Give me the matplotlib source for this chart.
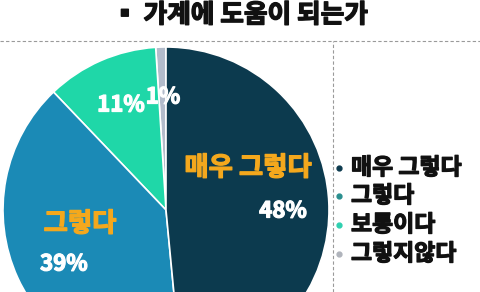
import matplotlib
matplotlib.use("Agg")
import matplotlib.pyplot as plt
from matplotlib.lines import Line2D
import matplotlib.patheffects as pe

plt.rcParams['font.family'] = ['Noto Sans CJK KR', 'DejaVu Sans']

title = "▪ 가계에 도움이 되는가"
categories = ["그렇지않다", "보통이다", "그렇다", "매우 그렇다"]
values = [1, 11, 39, 48]
colors = ["#b3bccb", "#1fd7a8", "#1b8ab6", "#0c3a4e"]
pct_labels = ["1%", "11%", "39%", "48%"]
legend_order = ["매우 그렇다", "그렇다", "보통이다", "그렇지않다"]

W, H = 481, 292
fig = plt.figure(figsize=(W / 100, H / 100), dpi=100)
fig.patch.set_facecolor("white")

# pie axes: center (166, 210) px, radius 163 px
cx, cy, r = 166, 210, 163
ax = fig.add_axes([(cx - r) / W, (H - cy - r) / H, 2 * r / W, 2 * r / H])
ax.pie(values, colors=colors, startangle=90, counterclock=True,
       wedgeprops=dict(edgecolor="white", linewidth=1.2))
ax.set_xlim(-1, 1)
ax.set_ylim(-1, 1)
ax.set_aspect("auto")
ax.axis("off")

def d(px, py):
    return ((px - cx) / r, (cy - py) / r)

def heavy(c, w=0.9):
    return [pe.withStroke(linewidth=w, foreground=c)]

orange = "#f4a81d"
ax.text(*d(248, 168), "매우 그렇다", color=orange, fontsize=19, fontweight="bold",
        ha="center", va="center", clip_on=False, path_effects=heavy(orange))
ax.text(*d(283, 211), pct_labels[3], color="white", fontsize=16, fontweight="bold",
        ha="center", va="center", clip_on=False, path_effects=heavy("white"))
ax.text(*d(80, 224), "그렇다", color=orange, fontsize=19, fontweight="bold",
        ha="center", va="center", clip_on=False, path_effects=heavy(orange))
ax.text(*d(64, 264), pct_labels[2], color="white", fontsize=16, fontweight="bold",
        ha="center", va="center", clip_on=False, path_effects=heavy("white"))
ax.text(*d(121, 105), pct_labels[1], color="white", fontsize=16, fontweight="bold",
        ha="center", va="center", clip_on=False, path_effects=heavy("white"))
ax.text(*d(163, 97), pct_labels[0], color="white", fontsize=16, fontweight="bold",
        ha="center", va="center", clip_on=False, path_effects=heavy("white"))

# title
fig.text(240 / W, 1 - 15 / H, title, fontsize=18.5, fontweight="bold",
         ha="center", va="center", color="#111111", path_effects=heavy("#111111", 1.0))

# dashed frame lines
fig.add_artist(Line2D([0, 1], [1 - 40.5 / H] * 2, transform=fig.transFigure,
                      color="#9a9a9a", linestyle=(0, (3, 2)), linewidth=0.8))
fig.add_artist(Line2D([333 / W] * 2, [0, 1 - 40.5 / H], transform=fig.transFigure,
                      color="#9a9a9a", linestyle=(0, (3, 2)), linewidth=0.8))

# legend
row_y = [168, 196, 225, 254]
bullet_colors = {"매우 그렇다": "#0c3a4e", "그렇다": "#2a8f8f",
                 "보통이다": "#2fd0b0", "그렇지않다": "#b0b4bc"}
for lab, y in zip(legend_order, row_y):
    fig.add_artist(Line2D([339 / W], [1 - y / H], transform=fig.transFigure,
                          marker="o", markersize=3.5, color=bullet_colors[lab], linestyle="none"))
    fig.text(351 / W, 1 - y / H, lab, fontsize=16.5, fontweight="bold",
             ha="left", va="center", color="#111111", path_effects=heavy("#111111", 0.9))

fig.savefig("out.png", dpi=100)
